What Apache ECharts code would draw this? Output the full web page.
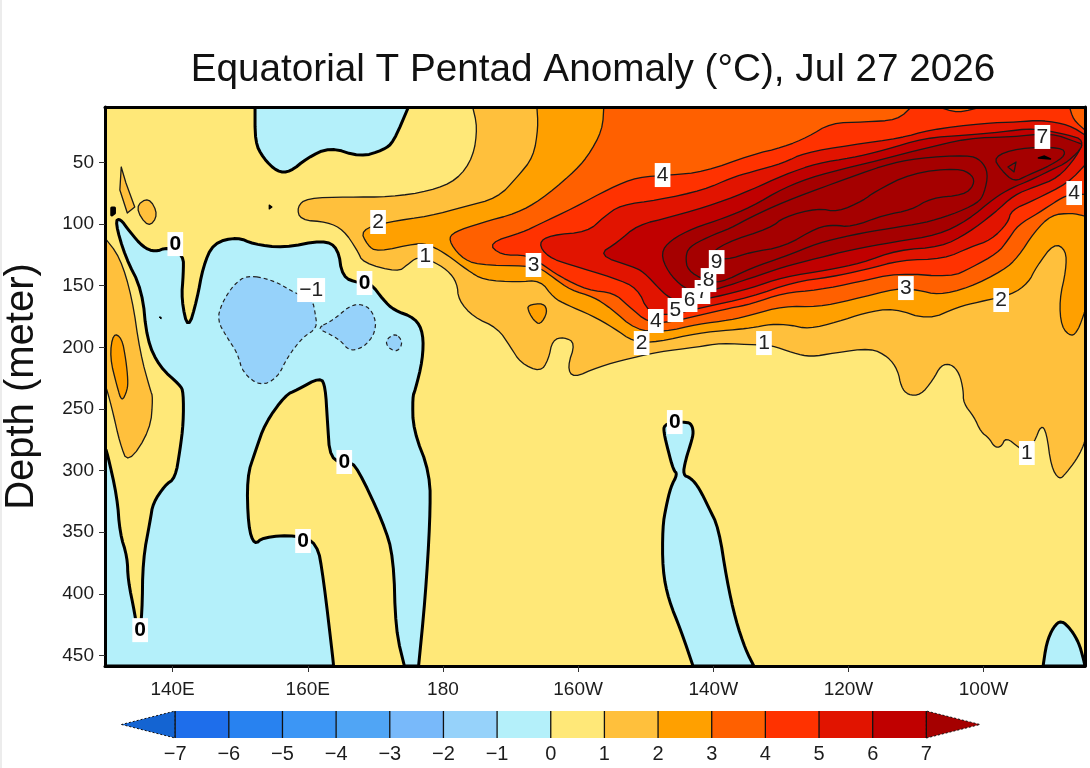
<!DOCTYPE html>
<html>
<head>
<meta charset="utf-8">
<style>html,body{margin:0;padding:0;background:#fff}#c{width:1090px;height:768px}</style>
<script src="https://cdn.jsdelivr.net/npm/echarts@6/dist/echarts.min.js"></script>
</head>
<body>
<div id="c"></div>
<script>
// Axis values
const lonTicks = [140,160,180,200,220,240,260];
const depthTicks = [50,100,150,200,250,300,350,400,450];
const lonRange = [130,275];
const depthRange = [5,458.5];
const levels = [-7,-6,-5,-4,-3,-2,-1,0,1,2,3,4,5,6,7];
const bandColors = ['rgb(20,100,210)','rgb(30,110,235)','rgb(40,130,240)','rgb(60,150,245)','rgb(80,165,245)','rgb(120,185,250)','rgb(150,210,250)','rgb(180,240,250)','rgb(255,232,120)','rgb(255,192,60)','rgb(255,160,0)','rgb(255,96,0)','rgb(255,50,0)','rgb(225,20,0)','rgb(192,0,0)','rgb(165,0,0)'];

// Contours: flat lon,depth pairs (lon in degrees east, depth in metres)
const wholeSection = [130,5,275,5,275,458.5,130,458.5];
const below0Top = [152.2,5,152.2,33.4,153.4,46.4,155.5,57.7,157.4,57.7,159.9,46.4,163.3,37.5,167.8,45.6,171.2,39.9,172.7,33.4,174.9,5];
const below0Main = [131.5,98.3,132.2,95.1,133.7,106.4,135.6,118.6,137.4,122.7,139.3,118.6,141.6,125.1,141.6,139.7,141.3,161.6,142.3,186,143.6,161.6,144.5,134.8,146,115.4,149.6,110.5,151.9,116.2,156.4,119.4,162.3,112.9,164.5,119.4,165.1,142.9,167.5,147.8,169.3,147.8,171.2,161.6,172.7,169.7,175.9,176.2,177.1,188.4,177,210.3,175.9,234.6,175.5,240.3,175.6,267.1,178.1,302,178.1,340.1,177.4,402.6,176.4,458.5,174.3,458.5,173,429.4,172.7,370.1,171.2,342.5,167.3,297.1,166,293,163.3,291.4,162.9,259,162.6,232.2,161.9,224.1,158.4,234.6,156.7,238.7,153.7,261.4,152.2,284.9,151,305.2,151.2,345.8,152.1,360.4,153.4,353.9,158.4,352.3,161.4,358.8,162.3,386.4,163.8,456.1,163.8,458.5,130,458.5,130,281.7,130.3,284.9,131.8,321.4,132.2,350.7,133.3,370.1,133.4,388.8,134.4,415.6,135,437.5,135.5,415.6,135.6,372.6,136.7,340.1,137.1,326.3,138.9,311.7,140.4,306,141.1,283.3,141.6,261.4,141.6,236.2,141.1,230.6,138.1,216,136.2,194.1,135.5,153.5,133,126.7];
const below0East = [214.4,260.6,215.5,260.6,216.7,261.4,217.1,268.7,216.7,277.6,215.9,291.4,215.5,303.6,216.7,306,217.9,314.1,219.3,329.6,220.8,346.6,222,388.8,223.3,421.2,224.8,445.6,226,458.5,217,458.5,215.2,429.4,213.4,405,212.5,380.7,212.5,345.8,213,329.6,213.7,313.3,214.7,302.8,214.1,299.5,213.3,283.3,212.7,269.5,212.7,263];
const below0Corner = [268.8,458.5,269.3,439.9,270.3,426.9,271.5,421.2,273,429.4,274.1,439.9,274.7,451.3,275,458.5];
const below0Speck = [131,87,131.4,87,131.4,91,131,92.6];
const belowM1Big = [151,141.3,154.9,145.4,158.1,155.9,160.7,161.6,161.1,172.1,161.4,184.3,159.3,191.6,157,207.8,155.5,224.9,153,231.4,150.4,220.8,149.6,204.6,148.1,192.4,146.6,177.8,147.3,164,149,149.4];
const belowM1Mid = [161.4,184.3,163.8,177.8,166.7,164,169.3,167.3,170.3,183.5,168.8,198.1,166.3,203.8,164.8,194.1,162.9,188.4];
const belowM1Small = [173,188.4,174.1,195.7,173.3,203.8,171.9,200.5,171.5,194.1];
const above1Main = [184.4,5,185.1,21.2,184.5,45.6,182.1,64.2,178.1,73.2,172.2,78,165.9,78,159.9,78.8,158.4,86.1,158.9,96.7,162.9,98.3,165.3,104.8,167.3,121,168.2,131.6,173.3,138.9,174.7,133.2,176.2,126.7,178.1,129.1,180.7,137.3,182.1,147.8,182.3,161.6,184.5,175.4,188.1,184.3,190,199.7,191.5,212.7,194.4,220,195.6,210.3,196.2,194.1,197.9,191.6,199.6,196.5,198.4,216,199.3,224.9,202.9,216,207.8,208.7,211.8,203.8,217.7,199.7,221.1,196.5,226.6,198.1,228.5,198.1,231.9,204.6,234.4,207.8,237.9,204.6,243.3,200.5,245.9,207.8,247.3,218.4,247.8,232.2,248.8,238.7,250.7,238.7,252.5,226.5,253.7,214.3,255.2,213.5,256.4,220.8,257,234.6,257,245.2,258.6,256.5,259.6,268.7,260.8,273.6,261.6,280.9,262.6,280.9,263.3,272.8,265.3,281.7,266.4,285.7,267.5,276.8,268.5,263,269.3,268.7,270,297.1,271.2,307.6,272.2,302,273.7,291.4,274.7,280.9,275,275.2,275,5];
const above1West = [130,111.3,132.2,126.7,134,159.2,135.2,204.6,136.7,234.6,137.1,240.3,136.7,267.1,133.4,294.7,132.2,277.6,131.2,253.3,130.3,234.6,130,230.6];
const above1BlobA = [132.4,53.7,132.2,72.3,133.3,91,134.4,86.1,133.1,66.7];
const above1BlobB = [134.4,86.1,136.5,78,137.9,92.6,136.4,103.2];
const above2West = [131.2,188.4,132.5,192.4,133.1,210.3,133.4,226.5,133.3,234.6,132.5,244.4,131.8,232.2,130.7,207.8];
const above2Main = [193.9,5,194.1,21.2,193.4,45.6,191,61.8,188.1,78.8,183,86.1,178.1,93.4,171.8,98.3,167.8,104.8,168.8,117,170.3,122.7,176.2,115.4,178.1,117,180.7,125.1,183.6,137.3,186,145.4,191,147,194.4,145.4,196.4,160,198.4,165.7,201.9,173.8,205.3,184.3,208.2,195.7,211.8,195.7,217.7,188.4,222.6,185.9,225.6,184.3,228.5,181.1,231.5,181.9,234.1,185.1,238.4,179.4,242.3,172.1,246.7,168.1,251.8,177.8,256.2,167.3,259.2,163.2,264.1,157.5,266.6,147.8,267.8,134.8,270.4,115.4,272.2,121,272.2,137.3,271.2,161.6,271.5,183.5,273,191.6,274,185.9,274.9,172.1,275,169.7,275,5];
const above2Blob = [192.5,165.7,194.9,164,195.5,171.3,194.4,181.9,193.4,177.8,192.7,171.3];
const above3 = [203.8,5,203.6,23.7,201.4,45.6,198.9,60.2,194.4,80.5,191,91,185.6,99.1,181.6,106.4,180.8,112.9,182.6,126.7,185.1,133.2,192.5,134,194.4,135.6,196.4,143.7,198.9,153.5,202.3,159.2,204.8,168.1,208.5,185.9,212.7,187.6,217.7,181.1,222.6,177.8,225.6,173.8,230.4,166.5,235.5,167.3,240.4,161.6,247.3,151.9,250.3,153.5,253.3,157.5,257.7,151.9,263,137.3,265.1,126.7,267.5,106.4,270,92.6,273,91,274.9,93.4,275,93.4,275,5];
const above4 = [249.3,5,247.3,15.5,242.3,17.2,237.4,18,234,29.3,230.4,37.5,225.6,43.9,218.6,57.7,213.7,60.2,208.8,61.8,204.8,70.7,199.3,87,194,100.7,191.9,106.4,186.7,115.4,188.5,125.1,192.5,125.1,194.4,131.6,197.4,142.9,201.4,153.5,205.3,155.9,207.3,165.7,210.4,180.3,213.7,179.4,218.1,173.8,222.6,168.1,225.6,164.8,230.4,155.9,235.5,153.5,241.4,147,247.3,139.7,255.2,142.9,258.1,135.6,262.1,123.5,263.6,112.9,265.1,100.7,268.1,91,271,80.5,272.5,76.4,275,75.6,275,23.7,273.3,15.5,272.7,5,259.6,5,256.2,9.9,253.3,5];
const above5 = [194.1,115.4,195.9,108.9,201.4,106.4,203.8,94.3,206.3,84.5,211.8,80.5,218.6,72.3,222.6,62.6,225.6,57.7,230.4,50.4,233.4,42.3,240.4,35.8,247.8,30.2,251.8,23.7,260.1,18,265.1,17.2,268.5,15.5,272.7,19.6,275,27.7,275,52,272.5,66.7,267.5,80.5,264.1,88.6,263.6,99.1,261.1,112.9,258.1,118.6,254.1,128.3,247.8,129.1,242.3,137.3,237.4,142.9,231.9,147,225.6,159.2,218.1,168.1,213.7,173.8,210.4,172.1,208.8,151.9,205.3,143.7,198.9,133.2,195.5,126.7];
const above6 = [202.9,125.1,205.9,114.5,208.8,100.7,213.7,94.3,220.7,82.9,225.6,72.3,230.4,60.2,235.5,50.4,240.4,46.4,245.3,39.9,251.2,30.2,257.7,27.7,262.6,25.3,267.5,22,272.5,27.7,274.9,31.8,273.7,45.6,271,62.6,267.5,69.9,264.5,76.4,261.6,91,257.7,107.2,253.7,118.6,247.3,121,241.9,131.6,237,137.3,230.4,142.9,225.6,151.9,220.4,159.2,215.2,164,213.4,159.2,212.2,153.5,209.7,138.9,208.2,134.8];
const above7 = [212.2,123.5,213.7,112.9,217.1,103.2,221.6,95.1,225.6,86.1,230.4,70.7,235.5,60.2,242.9,50.4,250.3,39.9,257.7,30.2,264.1,29.3,270,26.1,273.7,33.4,274.9,35.8,272.5,49.6,270,56.1,267,64.2,264.1,70.7,261.6,78.8,257.7,96.7,253.3,108.9,246.7,114.5,240.4,121,235.5,127.5,230.4,134.8,225.6,143.7,221.1,151.9,218.1,155.9,215.6,151.9,213.3,138.9];
const line8Core = [215.9,126.7,216.4,118.6,219.2,110.5,222.6,103.2,225.6,94.3,230.4,82.1,237.9,66.7,245.3,52.1,250.3,46.4,257.7,43.9,259.6,48,260.7,58.6,260.1,74.8,259.2,82.9,255.2,92.6,251.2,99.1,246.3,103.2,240.4,108.9,235.5,115.4,230.4,126.7,225.6,135.6,221.1,147.8,218.6,145.4,216.2,137.3];
const line8East = [261.4,45.6,265.1,38.3,271.5,37.5,272.2,43.9,270,52.1,266.6,60.2,264.5,65.9,262.6,56.1];
const line9Core = [219.2,126.7,221.6,115.4,228.5,103.2,230.4,94.3,235.5,87,238.4,90.2,242.3,80.5,243.8,74,249.3,58.6,256.2,54.5,258.4,60.2,258.6,68.3,257.1,76.4,252.2,78.8,249.3,88.6,245.3,92.6,240.4,102.4,237.9,100.7,235.5,102.4,230.4,118.6,225.6,122.7,221.9,129.1];
const line9Ring = [263.6,53.7,264.8,49.6,264.5,57.7];
const line9Spot = [268.1,46.4,269,44.8,269.9,47.2];
const speckA = [154.3,84.5,154.7,86.1,154.3,87.7];
const speckB = [138,175.4,138.3,175.4,138.3,177];

// Contour labels
const labelLons =   [212.5,170.4,177.4,140.4,168.4,160.5,193.4,227.5,209.4,211.5,214.4,216.5,218.4,219.3,220.5,248.5,262.6,266.4,273.4,268.7,214.3,165.4,159.3,135.2];
const labelDepths = [60.2,98.3,125.9,116.2,147.8,153.5,133.2,196.5,196.5,178.6,169.7,161.6,155.1,145.4,130.8,151.9,161.6,285.7,74.8,29.3,260.6,293,357.1,429.4];
const labelTexts =  ['4','2','1','0','0','\u22121','3','1','2','4','5','6','7','8','9','3','2','1','4','7','0','0','0','0'];

const titleText = 'Equatorial T Pentad Anomaly (\u00B0C), Jul 27 2026';
const depthName = 'Depth (meter)';

const FONT = '"Liberation Sans"';
const ink = '#1c1c1c';
const col = v => bandColors[levels.indexOf(v)+1];   // fill of the band that starts at level v
const thick = {stroke:'#000', lineWidth:3};
const thin = {stroke:'#1a1a1a', lineWidth:1.3};

const shapes = [
  {pts:wholeSection,fill:col(0), stroke:null, lineWidth:0, raw:true},
  {pts:below0Top,   fill:col(-1), ...thick},
  {pts:below0Main,  fill:col(-1), ...thick},
  {pts:below0East,  fill:col(-1), ...thick},
  {pts:below0Corner,fill:col(-1), ...thick},
  {pts:below0Speck, fill:'#000', ...thick, raw:true},
  {pts:belowM1Big,  fill:col(-2), stroke:'#222', lineWidth:1.2, lineDash:[4,3]},
  {pts:belowM1Mid,  fill:col(-2), stroke:'#222', lineWidth:1.2, lineDash:[4,3]},
  {pts:belowM1Small,fill:col(-2), stroke:'#222', lineWidth:1.2, lineDash:[4,3]},
  {pts:above1Main,  fill:col(1), ...thin},
  {pts:above1West,  fill:col(1), ...thin},
  {pts:above1BlobA, fill:col(1), ...thin, raw:true},
  {pts:above1BlobB, fill:col(1), ...thin},
  {pts:above2West,  fill:col(2), ...thin},
  {pts:above2Main,  fill:col(2), ...thin},
  {pts:above2Blob,  fill:col(2), ...thin},
  {pts:above3,      fill:col(3), ...thin},
  {pts:above4,      fill:col(4), ...thin},
  {pts:above5,      fill:col(5), ...thin},
  {pts:above6,      fill:col(6), ...thin},
  {pts:above7,      fill:col(7), ...thin},
  {pts:line8Core,   fill:'none', ...thin},
  {pts:line8East,   fill:'none', ...thin},
  {pts:line9Core,   fill:'none', ...thin},
  {pts:line9Ring,   fill:'none', ...thin, raw:true},
  {pts:line9Spot,   fill:'#000', stroke:'#000', lineWidth:1.5, raw:true},
  {pts:speckA,      fill:'#000', stroke:'#000', lineWidth:1.2, raw:true},
  {pts:speckB,      fill:'#000', stroke:'#000', lineWidth:1, raw:true}
];

function toRing(flat){ const r=[]; for(let i=0;i<flat.length;i+=2) r.push([flat[i],flat[i+1]]); return r; }
function onFrame(p){ return p[0]===lonRange[0]||p[0]===lonRange[1]||p[1]===depthRange[0]||p[1]===depthRange[1]; }
// round the drawn path's corners; vertices on the plot frame stay where they are
function rounded(ring){
  let r=ring;
  for(let k=0;k<2;k++){
    const o=[];
    r.forEach((p,i)=>{
      const q=r[(i+1)%r.length];
      if(onFrame(p)) o.push(p); else o.push([.75*p[0]+.25*q[0],.75*p[1]+.25*q[1]]);
      if(!onFrame(q)) o.push([.25*p[0]+.75*q[0],.25*p[1]+.75*q[1]]);
    });
    r=o;
  }
  return r;
}

const lonFmt = v => v<180 ? v+'E' : v===180 ? '180' : (360-v)+'W';

// colour bar pieces: [low edge, high edge, colour index]
const barPieces = bandColors.map((c,i)=>[i===0?-8:levels[i-1], i===bandColors.length-1?8:levels[i], i]);

const chart = echarts.init(document.getElementById('c'), null, {renderer:'canvas'});
chart.setOption({
  animation:false,
  backgroundColor:'#fff',
  graphic:[{type:'rect',shape:{x:0,y:0,width:2,height:768},style:{fill:'#ececec'},silent:true}],
  title:{text:titleText,left:588,top:46,textAlign:'center',textStyle:{fontFamily:FONT,fontSize:38.7,fontWeight:'normal',color:'#111'}},
  grid:[
    {left:105,top:107,width:980,height:559,outerBoundsMode:'none'},
    {left:121.5,top:711,width:858.5,height:27,outerBoundsMode:'none'}
  ],
  xAxis:[
    {type:'value',gridIndex:0,min:lonRange[0],max:lonRange[1],position:'bottom',z:10,splitLine:{show:false},
     axisLine:{show:true,onZero:false,lineStyle:{color:'#000',width:3}},
     axisTick:{show:true,length:6,customValues:lonTicks,lineStyle:{color:'#333',width:1}},
     axisLabel:{show:true,customValues:lonTicks,formatter:lonFmt,margin:14,fontFamily:FONT,fontSize:19,color:ink}},
    {type:'value',gridIndex:0,min:lonRange[0],max:lonRange[1],position:'top',z:10,splitLine:{show:false},
     axisLine:{show:true,onZero:false,lineStyle:{color:'#000',width:3}},axisTick:{show:false},axisLabel:{show:false}},
    {type:'value',gridIndex:1,min:-8,max:8,position:'bottom',splitLine:{show:false},axisLine:{show:false},axisTick:{show:false},
     axisLabel:{show:true,customValues:levels,formatter:v=>String(v).replace('-','\u2212'),margin:6,fontFamily:FONT,fontSize:20,color:ink}}
  ],
  yAxis:[
    {type:'value',gridIndex:0,min:depthRange[0],max:depthRange[1],inverse:true,position:'left',z:10,splitLine:{show:false},
     name:depthName,nameLocation:'middle',nameGap:63,nameTextStyle:{fontFamily:FONT,fontSize:40,color:'#111'},
     axisLine:{show:true,onZero:false,lineStyle:{color:'#000',width:3}},
     axisTick:{show:true,length:6,customValues:depthTicks,lineStyle:{color:'#333',width:1}},
     axisLabel:{show:true,customValues:depthTicks,margin:11,fontFamily:FONT,fontSize:19,color:ink}},
    {type:'value',gridIndex:0,min:depthRange[0],max:depthRange[1],inverse:true,position:'right',z:10,splitLine:{show:false},
     axisLine:{show:true,onZero:false,lineStyle:{color:'#000',width:3}},axisTick:{show:false},axisLabel:{show:false}},
    {type:'value',gridIndex:1,min:0,max:1,show:false}
  ],
  series:[
    {type:'custom',xAxisIndex:0,yAxisIndex:0,clip:true,z:2,silent:true,
     data:shapes.map((s,i)=>[s.pts[0],s.pts[1],i]),encode:{x:0,y:1},
     renderItem:(params,api)=>{
       const s=shapes[api.value(2)];
       const ring=toRing(s.pts);
       const pts=(s.raw?ring:rounded(ring)).map(p=>api.coord(p));
       return {type:'polygon',shape:{points:pts},
         style:{fill:s.fill==='none'?null:s.fill,stroke:s.stroke,lineWidth:s.lineWidth,lineDash:s.lineDash||null,lineJoin:'round'}};
     }},
    {type:'scatter',xAxisIndex:0,yAxisIndex:0,z:20,symbolSize:0,silent:true,itemStyle:{opacity:1},
     data:labelLons.map((x,i)=>({value:[x,labelDepths[i]],text:labelTexts[i],label:labelTexts[i]==='0'?{fontWeight:'bold',color:'#000'}:{}})),
     label:{show:true,position:'inside',formatter:p=>p.data.text,fontFamily:FONT,fontSize:21,color:'#222',opacity:1,backgroundColor:'#fff',padding:[2,2,1,2],lineHeight:21},
     labelLayout:{hideOverlap:false}},
    {type:'custom',xAxisIndex:2,yAxisIndex:2,z:2,silent:true,clip:false,
     data:barPieces,encode:{x:[0,1]},
     renderItem:(params,api)=>{
       const lo=api.value(0),hi=api.value(1),c=bandColors[api.value(2)];
       const a=api.coord([lo,0]),b=api.coord([hi,1]),m=api.coord([lo,.5]),n=api.coord([hi,.5]);
       const kids=[];
       if(api.value(2)===0){
         kids.push({type:'polygon',shape:{points:[m,[b[0],a[1]],b]},style:{fill:c,stroke:'#111',lineWidth:1,lineDash:[2,2]}});
       } else if(api.value(2)===bandColors.length-1){
         kids.push({type:'polygon',shape:{points:[[a[0],a[1]],n,[a[0],b[1]]]},style:{fill:c,stroke:'#111',lineWidth:1,lineDash:[2,2]}});
       } else {
         kids.push({type:'rect',shape:{x:a[0],y:b[1],width:b[0]-a[0],height:a[1]-b[1]},style:{fill:c}});
       }
       if(api.value(2)>0) kids.push({type:'line',shape:{x1:a[0],y1:b[1],x2:a[0],y2:a[1]},style:{stroke:'#111',lineWidth:1.3},z2:5});
       return {type:'group',children:kids};
     }}
  ]
});
</script>
</body>
</html>
